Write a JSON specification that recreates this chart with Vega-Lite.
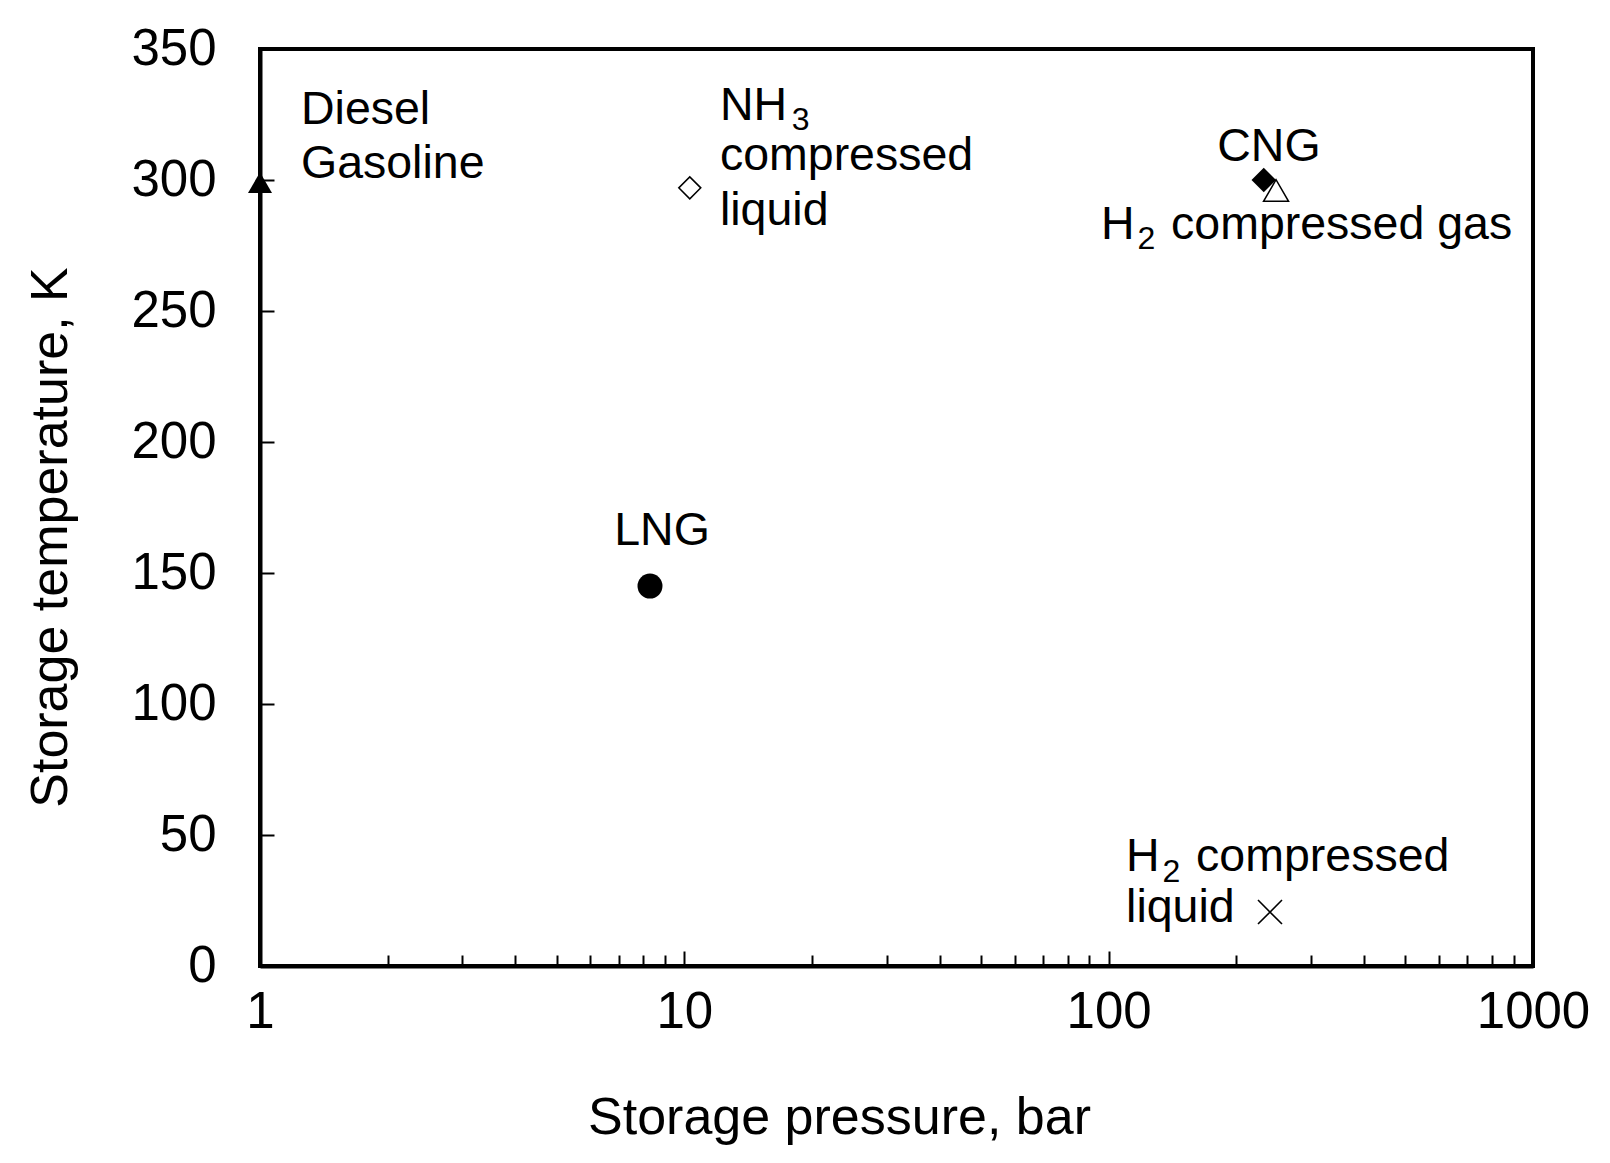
{
  "$schema": "https://vega.github.io/schema/vega-lite/v6.json",
  "width": 1273,
  "height": 917,
  "autosize": "none",
  "padding": {"left": 260, "top": 49, "right": 77, "bottom": 197},
  "background": "white",
  "config": {
    "view": {"stroke": "black", "strokeWidth": 4},
    "font": "Liberation Sans",
    "axis": {
      "grid": false,
      "domainColor": "black",
      "domainWidth": 4,
      "tickColor": "black",
      "tickWidth": 2,
      "labelColor": "black",
      "labelFont": "Liberation Sans",
      "labelFontSize": 51,
      "titleColor": "black",
      "titleFont": "Liberation Sans",
      "titleFontSize": 52,
      "titleFontWeight": "normal"
    }
  },
  "datasets": {
    "points": [
      {"fuel": "Diesel / Gasoline", "p": 1, "t": 299},
      {"fuel": "NH3 compressed liquid", "p": 10.3, "t": 297},
      {"fuel": "LNG", "p": 8.3, "t": 145},
      {"fuel": "CNG", "p": 232, "t": 300},
      {"fuel": "H2 compressed gas", "p": 248, "t": 296},
      {"fuel": "H2 compressed liquid", "p": 240, "t": 20.6}
    ],
    "labelsLeft": [
      {"text": "Diesel", "p": 1.249, "t": 321.4},
      {"text": "Gasoline", "p": 1.249, "t": 300.8},
      {"text": "NH", "p": 12.13, "t": 322.9},
      {"text": "compressed", "p": 12.13, "t": 303.8},
      {"text": "liquid", "p": 12.13, "t": 282.8},
      {"text": "H", "p": 95.9, "t": 277.5},
      {"text": "compressed gas", "p": 140.3, "t": 277.5},
      {"text": "H", "p": 109.9, "t": 36.3},
      {"text": "compressed", "p": 160.7, "t": 36.3},
      {"text": "liquid", "p": 109.9, "t": 16.8}
    ],
    "labelsCenter": [
      {"text": "CNG", "p": 238.6, "t": 307.3},
      {"text": "LNG", "p": 8.86, "t": 160.7}
    ],
    "subs": [
      {"text": "3", "p": 17.9, "t": 319.0},
      {"text": "2", "p": 117.0, "t": 273.8},
      {"text": "2", "p": 134.0, "t": 32.2}
    ]
  },
  "encoding": {
    "x": {
      "field": "p",
      "type": "quantitative",
      "scale": {"type": "log", "domain": [1, 1000], "nice": false},
      "axis": {
        "title": "Storage pressure, bar",
        "values": [1, 2, 3, 4, 5, 6, 7, 8, 9, 10, 20, 30, 40, 50, 60, 70, 80, 90, 100, 200, 300, 400, 500, 600, 700, 800, 900, 1000],
        "format": "d",
        "labelExpr": "indexof([1, 10, 100, 1000], datum.value) >= 0 ? datum.label : ''",
        "tickSize": {"condition": {"test": "indexof([1, 10, 100, 1000], datum.value) >= 0", "value": -15}, "value": -11},
        "labelPadding": 36,
        "labelFlush": false,
        "labelOverlap": false,
        "titleX": 579,
        "titleY": 167,
        "titleBaseline": "alphabetic",
        "titleAlign": "center"
      }
    },
    "y": {
      "field": "t",
      "type": "quantitative",
      "scale": {"domain": [0, 350], "nice": false, "zero": false},
      "axis": {
        "title": "Storage temperature, K",
        "values": [0, 50, 100, 150, 200, 250, 300, 350],
        "tickSize": -14,
        "labelPadding": 58,
        "labelFlush": false,
        "labelOverlap": false,
        "titleX": -194,
        "titleY": 488,
        "titleAngle": -90,
        "titleBaseline": "alphabetic",
        "titleAlign": "center"
      }
    }
  },
  "layer": [
    {
      "data": {"name": "points"},
      "transform": [{"filter": "datum.fuel === 'Diesel / Gasoline'"}],
      "mark": {"type": "point", "shape": "triangle-up", "filled": true, "color": "black", "size": 576, "opacity": 1}
    },
    {
      "data": {"name": "points"},
      "transform": [{"filter": "datum.fuel === 'NH3 compressed liquid'"}],
      "mark": {"type": "point", "shape": "diamond", "filled": false, "fill": "white", "stroke": "black", "strokeWidth": 1.5, "size": 484, "opacity": 1}
    },
    {
      "data": {"name": "points"},
      "transform": [{"filter": "datum.fuel === 'LNG'"}],
      "mark": {"type": "point", "shape": "circle", "filled": true, "color": "black", "size": 625, "opacity": 1}
    },
    {
      "data": {"name": "points"},
      "transform": [{"filter": "datum.fuel === 'CNG'"}],
      "mark": {"type": "point", "shape": "diamond", "filled": true, "color": "black", "size": 600, "opacity": 1}
    },
    {
      "data": {"name": "points"},
      "transform": [{"filter": "datum.fuel === 'H2 compressed gas'"}],
      "mark": {"type": "point", "shape": "triangle-up", "filled": false, "fill": "white", "stroke": "black", "strokeWidth": 1.5, "size": 625, "opacity": 1}
    },
    {
      "data": {"name": "points"},
      "transform": [{"filter": "datum.fuel === 'H2 compressed liquid'"}],
      "mark": {"type": "point", "shape": "M-1,-1L1,1M-1,1L1,-1", "filled": false, "stroke": "black", "strokeWidth": 1.6, "size": 576, "opacity": 1}
    },
    {
      "data": {"name": "labelsLeft"},
      "mark": {"type": "text", "align": "left", "baseline": "alphabetic", "fontSize": 46.5, "font": "Liberation Sans", "color": "black"},
      "encoding": {"text": {"field": "text"}}
    },
    {
      "data": {"name": "labelsCenter"},
      "mark": {"type": "text", "align": "center", "baseline": "alphabetic", "fontSize": 46.5, "font": "Liberation Sans", "color": "black"},
      "encoding": {"text": {"field": "text"}}
    },
    {
      "data": {"name": "subs"},
      "mark": {"type": "text", "align": "left", "baseline": "alphabetic", "fontSize": 32, "font": "Liberation Sans", "color": "black"},
      "encoding": {"text": {"field": "text"}}
    }
  ]
}
